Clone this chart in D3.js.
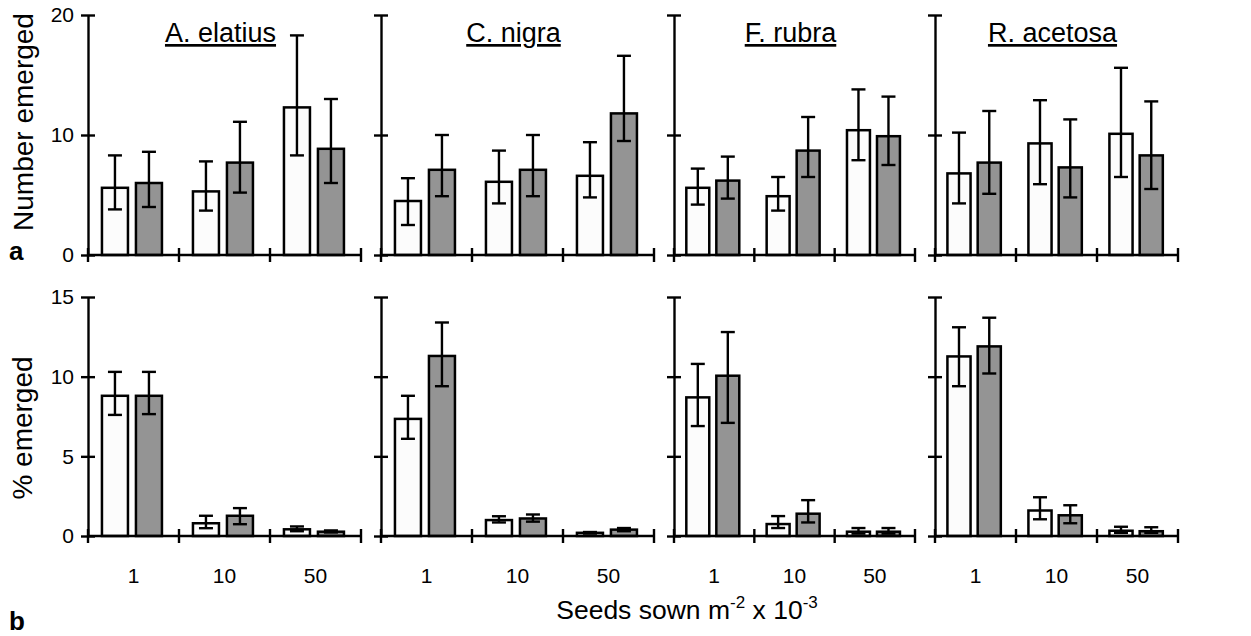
<!DOCTYPE html>
<html>
<head>
<meta charset="utf-8">
<script src="https://cdn.jsdelivr.net/npm/d3@7"></script>
<style>
  body { margin: 0; background: #fff; }
  text { font-family: "Liberation Sans", Arial, sans-serif; fill: #000; }
</style>
</head>
<body>
<script>
// categories
const species = ["A. elatius", "C. nigra", "F. rubra", "R. acetosa"];
const densities = ["1", "10", "50"];
const treatments = ["open", "grey"];

// panel a: number emerged (mean, lower and upper end of error bar), per species x density
const numOpenMean = [[5.6, 5.3, 12.3], [4.5, 6.1, 6.6], [5.6, 4.9, 10.4], [6.8, 9.3, 10.1]];
const numOpenLo   = [[3.8, 3.7, 8.3],  [2.5, 4.3, 4.8], [4.2, 3.7, 7.9],  [4.3, 5.9, 6.5]];
const numOpenHi   = [[8.3, 7.8, 18.3], [6.4, 8.7, 9.4], [7.2, 6.5, 13.8], [10.2, 12.9, 15.6]];
const numGreyMean = [[6.0, 7.7, 8.85], [7.1, 7.1, 11.8], [6.2, 8.7, 9.9], [7.7, 7.3, 8.3]];
const numGreyLo   = [[4.0, 5.2, 6.0],  [4.9, 4.9, 9.5],  [4.7, 6.5, 7.5], [5.1, 4.8, 5.5]];
const numGreyHi   = [[8.6, 11.1, 13.0], [10.0, 10.0, 16.6], [8.2, 11.5, 13.2], [12.0, 11.3, 12.8]];

// panel b: % emerged
const pctOpenMean = [[8.8, 0.8, 0.42], [7.35, 1.0, 0.2], [8.7, 0.75, 0.27], [11.27, 1.6, 0.33]];
const pctOpenLo   = [[7.6, 0.49, 0.3], [6.1, 0.85, 0.15], [6.9, 0.5, 0.15], [9.4, 1.05, 0.2]];
const pctOpenHi   = [[10.3, 1.27, 0.6], [8.8, 1.24, 0.25], [10.8, 1.25, 0.5], [13.1, 2.43, 0.58]];
const pctGreyMean = [[8.8, 1.27, 0.27], [11.3, 1.1, 0.4], [10.06, 1.4, 0.27], [11.9, 1.3, 0.3]];
const pctGreyLo   = [[7.65, 0.74, 0.22], [9.4, 0.9, 0.3], [7.1, 0.85, 0.15], [10.2, 0.8, 0.2]];
const pctGreyHi   = [[10.3, 1.75, 0.35], [13.4, 1.35, 0.5], [12.8, 2.25, 0.5], [13.7, 1.93, 0.55]];

const numTicks = [0, 10, 20];
const pctTicks = [0, 5, 10, 15];

const width = 1251, height = 636;
const font = "'Liberation Sans', Arial, sans-serif";
const fills = { open: "#fcfcfc", grey: "#949494" };

const svg = d3.select("body").append("svg")
    .attr("width", width)
    .attr("height", height);

// horizontal extent of each species panel
const panelX = [[88, 361], [381, 654], [674, 915], [935, 1178]];

const rows = [
    { max: 20, yRange: [255, 15], ticks: numTicks,
      mean: [numOpenMean, numGreyMean], lo: [numOpenLo, numGreyLo], hi: [numOpenHi, numGreyHi],
      labels: false, titles: true },
    { max: 15, yRange: [536, 297], ticks: pctTicks,
      mean: [pctOpenMean, pctGreyMean], lo: [pctOpenLo, pctGreyLo], hi: [pctOpenHi, pctGreyHi],
      labels: true, titles: false }
];

rows.forEach(row => {
    const y = d3.scaleLinear().domain([0, row.max]).range(row.yRange);
    const y0 = y(0);

    species.forEach((sp, i) => {
        const g = svg.append("g");

        const x0 = d3.scaleBand().domain(densities).range(panelX[i]);
        const x1 = d3.scaleBand().domain(treatments)
            .range([0, x0.bandwidth()])
            .paddingInner(0.235)
            .paddingOuter(0.456)
            .align(0.45);

        const bars = [];
        densities.forEach((d, j) => {
            treatments.forEach((t, k) => {
                bars.push({ d, t, mean: row.mean[k][i][j], lo: row.lo[k][i][j], hi: row.hi[k][i][j] });
            });
        });

        // bars
        g.selectAll("rect.bar")
            .data(bars)
            .enter().append("rect")
            .attr("class", "bar")
            .attr("x", b => x0(b.d) + x1(b.t))
            .attr("y", b => y(b.mean))
            .attr("width", x1.bandwidth())
            .attr("height", b => y0 - y(b.mean))
            .attr("fill", b => fills[b.t])
            .attr("stroke", "#000")
            .attr("stroke-width", 2.5);

        // error bars
        const err = g.selectAll("g.err")
            .data(bars)
            .enter().append("g")
            .attr("class", "err")
            .attr("transform", b => `translate(${x0(b.d) + x1(b.t) + x1.bandwidth() / 2},0)`)
            .attr("stroke", "#000")
            .attr("stroke-width", 2.4);
        err.append("line")
            .attr("y1", b => y(b.lo)).attr("y2", b => y(b.hi));
        err.append("line")
            .attr("x1", -7).attr("x2", 7)
            .attr("y1", b => y(b.hi)).attr("y2", b => y(b.hi));
        err.append("line")
            .attr("x1", -7).attr("x2", 7)
            .attr("y1", b => y(b.lo)).attr("y2", b => y(b.lo));

        // y axis
        const yAxis = d3.axisLeft(y)
            .tickValues(row.ticks)
            .tickSize(7)
            .tickSizeOuter(0)
            .tickPadding(7)
            .tickFormat(i === 0 ? d3.format("d") : () => "");
        const ya = g.append("g")
            .attr("transform", `translate(${panelX[i][0]},0)`)
            .call(yAxis);
        ya.select(".domain").attr("stroke-width", 2.4);
        ya.selectAll(".tick line").attr("x1", -7).attr("x2", 7).attr("stroke-width", 2.4);
        ya.selectAll(".tick text")
            .style("font-family", font)
            .style("font-size", "21px");

        // x axis with boundary ticks
        g.append("line")
            .attr("x1", panelX[i][0]).attr("x2", x0.range()[1])
            .attr("y1", y0).attr("y2", y0)
            .attr("stroke", "#000").attr("stroke-width", 2.4);
        const edges = densities.map(d => x0(d)).concat([x0.range()[1]]);
        g.selectAll("line.xt")
            .data(edges)
            .enter().append("line")
            .attr("class", "xt")
            .attr("x1", d => d).attr("x2", d => d)
            .attr("y1", y0 - 7).attr("y2", y0 + 7)
            .attr("stroke", "#000").attr("stroke-width", 2.4);

        if (row.labels) {
            g.selectAll("text.cat")
                .data(densities)
                .enter().append("text")
                .attr("class", "cat")
                .attr("x", d => x0(d) + x0.bandwidth() / 2)
                .attr("y", 583)
                .attr("text-anchor", "middle")
                .style("font-size", "21px")
                .text(d => d);
        }

        if (row.titles) {
            g.append("text")
                .attr("x", (panelX[i][0] + panelX[i][1]) / 2 - 4)
                .attr("y", 42)
                .attr("text-anchor", "middle")
                .style("font-size", "27px")
                .style("text-decoration", "underline")
                .text(sp);
        }
    });
});

// axis titles and panel letters
svg.append("text")
    .attr("transform", "translate(33,122) rotate(-90)")
    .attr("text-anchor", "middle")
    .style("font-size", "28px")
    .text("Number emerged");

svg.append("text")
    .attr("transform", "translate(32,428) rotate(-90)")
    .attr("text-anchor", "middle")
    .style("font-size", "28px")
    .text("% emerged");

svg.append("text")
    .attr("x", 9).attr("y", 260)
    .style("font-size", "26px")
    .style("font-weight", "bold")
    .text("a");

svg.append("text")
    .attr("x", 9).attr("y", 630)
    .style("font-size", "26px")
    .style("font-weight", "bold")
    .text("b");

const xt = svg.append("text")
    .attr("x", 687).attr("y", 619)
    .attr("text-anchor", "middle")
    .style("font-size", "26.5px");
xt.append("tspan").text("Seeds sown m");
xt.append("tspan").attr("dy", -11).style("font-size", "17px").text("-2");
xt.append("tspan").attr("dy", 11).text(" x 10");
xt.append("tspan").attr("dy", -11).style("font-size", "17px").text("-3");
</script>
</body>
</html>
